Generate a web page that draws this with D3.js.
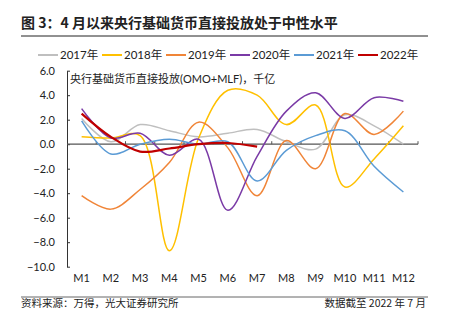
<!DOCTYPE html>
<html>
<head>
<meta charset="utf-8">
<script src="https://cdn.jsdelivr.net/npm/d3@7"></script>
<style>
  html, body { margin: 0; padding: 0; background: #fff; }
  svg { display: block; }
  text { font-family: Lato, "Noto Sans CJK SC", sans-serif; fill: #222; }
  .cjk { font-family: "Noto Sans CJK SC", sans-serif; }
</style>
</head>
<body>
<svg id="chart" width="449" height="324"></svg>
<script>
// Months on the x axis
const months = ["M1","M2","M3","M4","M5","M6","M7","M8","M9","M10","M11","M12"];
// Y-axis tick values (千亿)
const yTicks = [6, 4, 2, 0, -2, -4, -6, -8, -10];
// Yearly series names
const years = ["2017年","2018年","2019年","2020年","2021年","2022年"];
// Base money injection by month, per year
const y2017 = [2.1, 0.2, 1.6, 1.1, 0.6, 0.9, 1.2, 0.2, -0.4, 2.4, 1.5, 0.0];
const y2018 = [0.6, 0.5, 0.7, -8.7, 0.5, 4.4, 4.0, 1.6, 3.2, -3.5, -1.2, 1.5];
const y2019 = [-4.2, -5.3, -3.7, -1.5, 1.8, -0.3, -4.2, 0.3, -2.0, 2.5, 0.8, 2.7];
const y2020 = [2.9, 0.5, 0.9, -0.9, 0.4, -5.4, -1.0, 2.7, 4.2, 2.1, 3.8, 3.5];
const y2021 = [1.9, -0.8, 0.0, 0.4, 0.0, 0.2, -3.0, -0.5, 0.7, 1.1, -1.8, -3.9];
const y2022 = [2.5, 0.6, -0.6, -0.35, 0.0, 0.1, -0.2];

const seriesValues = [y2017, y2018, y2019, y2020, y2021, y2022];
const colors = ["#BFBFBF", "#FFC000", "#F08538", "#7A3AA6", "#5B9BD5", "#C00000"];
const widths = [1.5, 1.5, 1.5, 1.5, 1.5, 2.2];

const svg = d3.select("#chart");

// Title and rule
svg.append("text").attr("class", "cjk")
  .attr("x", 21).attr("y", 28)
  .attr("font-size", 14).attr("font-weight", "bold")
  .text("图 3：4 月以来央行基础货币直接投放处于中性水平");
svg.append("line").attr("x1", 21).attr("x2", 428).attr("y1", 36).attr("y2", 36)
  .attr("stroke", "#222").attr("stroke-width", 1);

// Scales
const x = d3.scaleBand().domain(months).range([67, 418]);
const y = d3.scaleLinear().domain([-10, 6]).range([266.7, 70.7]);
const cx = m => x(m) + x.bandwidth() / 2;

// Y axis
const yAxis = svg.append("g").attr("transform", "translate(67,0)")
  .call(d3.axisLeft(y).tickValues(yTicks).tickSizeInner(-3).tickSizeOuter(0)
    .tickPadding(12).tickFormat(d3.format(".1f")));
yAxis.select(".domain").attr("stroke", "#333");
yAxis.selectAll(".tick line").attr("stroke", "#333");
yAxis.selectAll("text").attr("font-size", 11).attr("fill", "#222")
  .attr("font-family", "Lato, sans-serif");

// X axis along zero, ticks at band boundaries
const xAxisG = svg.append("g").attr("transform", `translate(0,${y(0)})`);
xAxisG.append("line").attr("x1", 67).attr("x2", 418).attr("y1", 0).attr("y2", 0)
  .attr("stroke", "#555").attr("stroke-width", 1.3);
xAxisG.selectAll("line.tk").data(months.slice(1).concat(["end"]))
  .enter().append("line").attr("class", "tk")
  .attr("x1", (d, i) => 67 + (i + 1) * x.bandwidth())
  .attr("x2", (d, i) => 67 + (i + 1) * x.bandwidth())
  .attr("y1", -3).attr("y2", 0).attr("stroke", "#555");

// Month labels at the bottom
svg.append("g").selectAll("text").data(months).enter().append("text")
  .attr("x", d => cx(d)).attr("y", 282)
  .attr("text-anchor", "middle").attr("font-size", 11)
  .text(d => d);

// Unit label
svg.append("text").attr("x", 70).attr("y", 83)
  .attr("font-size", 11)
  .text("央行基础货币直接投放(OMO+MLF)，千亿");

// Lines
const line = d3.line()
  .x((d, i) => cx(months[i]))
  .y(d => y(d))
  .curve(d3.curveCatmullRom.alpha(0.5));

svg.append("g").selectAll("path").data(seriesValues).enter().append("path")
  .attr("d", d => line(d))
  .attr("fill", "none")
  .attr("stroke", (d, i) => colors[i])
  .attr("stroke-width", (d, i) => widths[i]);

// Legend
const legend = svg.append("g").selectAll("g").data(years).enter().append("g")
  .attr("transform", (d, i) => `translate(${38 + i * 64},55)`);
legend.append("line").attr("x1", 0).attr("x2", 20).attr("y1", 0).attr("y2", 0)
  .attr("stroke", (d, i) => colors[i]).attr("stroke-width", 2);
legend.append("text").attr("x", 22).attr("y", 4).attr("font-size", 11.5)
  .text(d => d);

// Footer
svg.append("line").attr("x1", 21).attr("x2", 428).attr("y1", 297).attr("y2", 297)
  .attr("stroke", "#666").attr("stroke-width", 1);
svg.append("text").attr("class", "cjk").attr("x", 21).attr("y", 307)
  .attr("font-size", 10.5).text("资料来源：万得，光大证券研究所");
svg.append("text").attr("class", "cjk").attr("x", 426).attr("y", 307)
  .attr("font-size", 10.5).attr("text-anchor", "end").text("数据截至 2022 年 7 月");
</script>
</body>
</html>
